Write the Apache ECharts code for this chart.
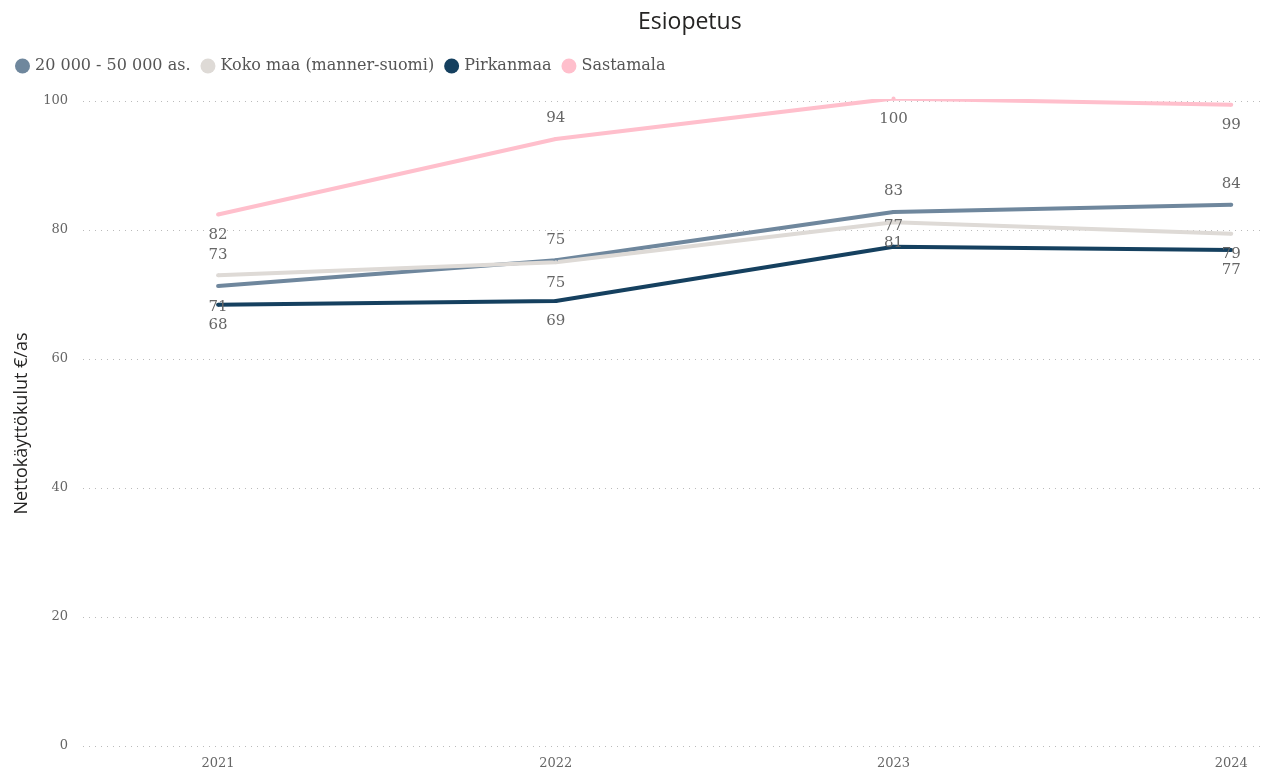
<!DOCTYPE html>
<html>
<head>
<meta charset="utf-8">
<script src="https://cdn.jsdelivr.net/npm/echarts@6/dist/echarts.min.js"></script>
<style>
  html, body { margin: 0; padding: 0; background: #fff; }
  #main { width: 1268px; height: 772px; }
</style>
</head>
<body>
<div id="main"></div>
<script>
// data
var years = ["2021", "2022", "2023", "2024"];
var seriesNames = ["20 000 - 50 000 as.", "Koko maa (manner-suomi)", "Pirkanmaa", "Sastamala"];
var kunnat20to50 = [71.3, 75.3, 82.8, 83.9];
var kokoMaa = [73.0, 75.0, 81.2, 79.4];
var pirkanmaa = [68.4, 69.0, 77.4, 76.9];
var sastamala = [82.4, 94.1, 100.4, 99.4];
var yTicks = [0, 20, 40, 60, 80, 100];

// label placement (above / below the line), like the original
var labelPos = [
  ["bottom", "top", "top", "top"],
  ["top", "bottom", "bottom", "bottom"],
  ["bottom", "bottom", "top", "bottom"],
  ["bottom", "top", "bottom", "bottom"]
];
var colors = ["#6f879d", "#dedad6", "#15405f", "#ffbfcc"];
var allValues = [kunnat20to50, kokoMaa, pirkanmaa, sastamala];

var chartDom = document.getElementById("main");
var myChart = echarts.init(chartDom);
var option;

var serifFont = "'DejaVu Serif', 'Liberation Serif', serif";
var sansFont = "'Open Sans', 'Noto Sans', sans-serif";

option = {
  color: colors,
  title: {
    text: "Esiopetus",
    left: 633,
    top: 6,
    textStyle: { fontFamily: sansFont, fontSize: 23, fontWeight: "normal", color: "#252423" }
  },
  legend: {
    left: 10,
    top: 53,
    icon: "circle",
    itemWidth: 15,
    itemHeight: 15,
    itemGap: 10,
    textStyle: { fontFamily: serifFont, fontSize: 16, color: "#555" },
    data: seriesNames
  },
  grid: { left: 83, right: 3, top: 101, bottom: 26 },
  xAxis: {
    type: "value",
    min: 2020.6,
    max: 2024.1,
    axisLine: { show: false },
    axisTick: { show: false },
    splitLine: { show: false },
    axisLabel: {
      customValues: years.map(Number),
      formatter: function (v) { return String(v); },
      fontFamily: serifFont,
      fontSize: 13,
      color: "#666",
      margin: 11
    }
  },
  yAxis: {
    type: "value",
    min: yTicks[0],
    max: yTicks[yTicks.length - 1],
    interval: 20,
    name: "Nettokäyttökulut €/as",
    nameLocation: "middle",
    nameGap: 52,
    nameTextStyle: { fontFamily: sansFont, fontSize: 18, color: "#252423" },
    axisLine: { show: false },
    axisTick: { show: false },
    axisLabel: { fontFamily: serifFont, fontSize: 13, color: "#666", margin: 15 },
    splitLine: { lineStyle: { type: [1, 5], color: "#bbb", width: 1 } }
  },
  series: seriesNames.map(function (name, s) {
    return {
      name: name,
      type: "line",
      clip: false,
      symbol: "circle",
      symbolSize: 4,
      showSymbol: true,
      z: s === 3 ? 3 : 2,
      lineStyle: { width: 4, color: colors[s] },
      itemStyle: { color: colors[s] },
      label: {
        show: true,
        fontFamily: serifFont,
        fontSize: 15,
        color: "#666",
        distance: 11,
        formatter: function (p) { return String(Math.round(p.value[1])); }
      },
      data: years.map(function (y, i) {
        return { value: [Number(y), allValues[s][i]], label: { position: labelPos[s][i] } };
      })
    };
  })
};

option && myChart.setOption(option);
</script>
</body>
</html>
